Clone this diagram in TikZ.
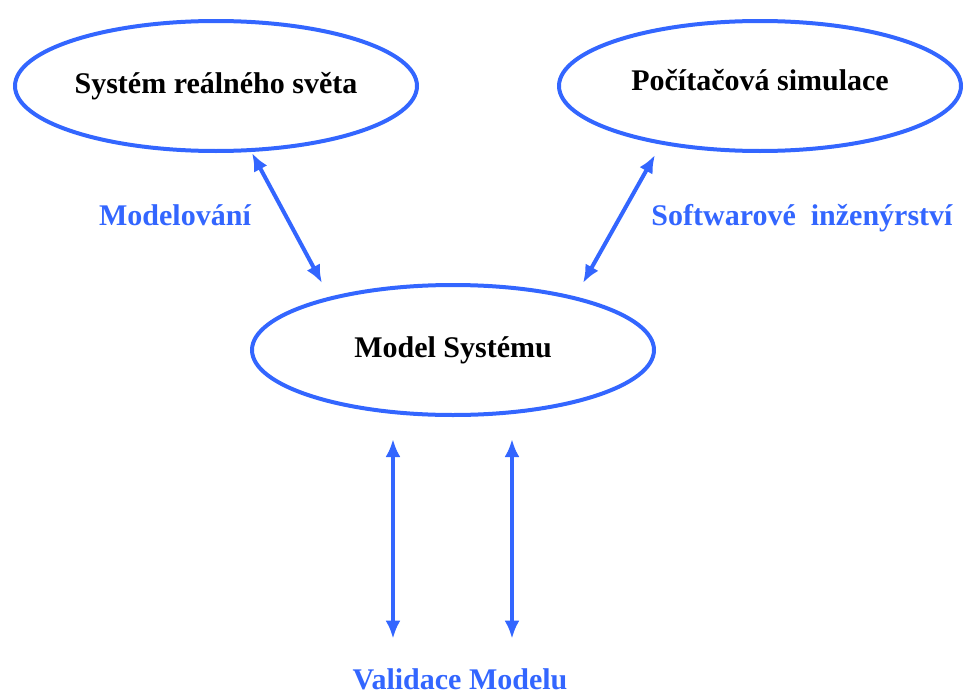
\documentclass[tikz,border=0pt]{standalone}
\usepackage{fontspec}
\setmainfont{Liberation Serif}
\usetikzlibrary{shapes.geometric, arrows.meta}
\usetikzlibrary{positioning}
\definecolor{linkblue}{RGB}{51,102,255}

\begin{document}
\begin{tikzpicture}[
    x=1pt, y=-1pt,
    every node/.style = {font=\fontsize{30}{36}\selectfont\bfseries},
    world/.style  = {draw=linkblue, line width=4pt, ellipse,
                     minimum width=402pt, minimum height=130pt, inner sep=0pt},
    tag/.style    = {text=linkblue, anchor=base},
    link/.style   = {draw=linkblue, line width=4pt, {Latex[length=18pt,width=15pt]}-{Latex[length=18pt,width=15pt]}},
  ]
  \useasboundingbox (0,0) rectangle (964,696);
  \node[world] (real) at (216,86) {Systém reálného světa};
  \node[world] (sim) at (760,86) {\raisebox{12pt}{Počítačová simulace}};
  \node[world] (model) at (453,350) {Model Systému};
  \node[tag] (modeling) at (175,225) {Modelování};
  \node[tag] (software) at (802,225) {Softwarové\ \ inženýrství};
  \node[tag] (valid) at (460,689) {Validace Modelu};

  \draw[link] ([xshift=36pt]real.south) -- ([xshift=-131pt]model.north);
  \draw[link] ([xshift=-105pt,yshift=-2pt]sim.south) -- ([xshift=130pt]model.north);
  \draw[link] ([xshift=-60pt,yshift=-22pt]model.south) -- ([xshift=-67pt,yshift=26pt]valid.north);
  \draw[link] ([xshift=59pt,yshift=-22pt]model.south) -- ([xshift=52pt,yshift=26pt]valid.north);
\end{tikzpicture}
\end{document}
